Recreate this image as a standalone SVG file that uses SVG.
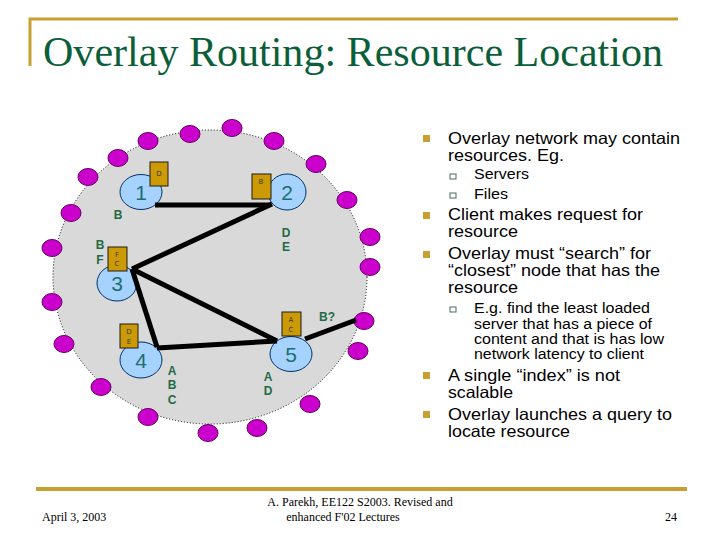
<svg xmlns="http://www.w3.org/2000/svg" width="720" height="540" viewBox="0 0 720 540">
<style>
.title{font-family:"Liberation Serif",serif;font-size:42px;fill:#0B5E3A}
.foot{font-family:"Liberation Serif",serif;font-size:12px;fill:#000}
.dot{fill:#CC00CC;stroke:#660066;stroke-width:1}
.node{fill:#A6D2FF;stroke:#003366;stroke-width:1}
.num{font-family:"Liberation Sans",sans-serif;font-size:21px;fill:#1E6E6E;text-anchor:middle}
.box{fill:#CC9A06;stroke:#1a1a1a;stroke-width:1}
.bt{font-family:"DejaVu Sans",sans-serif;font-size:7px;fill:#3a3a1a;text-anchor:middle}
.lab{font-family:"Liberation Sans",sans-serif;font-size:12px;font-weight:bold;fill:#1F6B45;text-anchor:middle}
.edge{stroke:#000;stroke-width:5;fill:none}
.b1{font-family:"Liberation Sans",sans-serif;font-size:16.5px;fill:#000}
.b2{font-family:"Liberation Sans",sans-serif;font-size:14px;fill:#000}
.sq{fill:#C8A032}
.sq2{fill:none;stroke:#4D6B5A;stroke-width:1}
</style>
<rect width="720" height="540" fill="#fff"/>
<g id="frame">
<path d="M30 66 V19 H678" fill="none" stroke="#C8A032" stroke-width="3"/>
<line x1="36" y1="489" x2="687" y2="489" stroke="#C8A032" stroke-width="4"/>
</g>
<text class="title" x="43" y="66" textLength="620" lengthAdjust="spacingAndGlyphs">Overlay Routing: Resource Location</text>
<g id="overlay">
<ellipse cx="210" cy="277" rx="157" ry="147" fill="#D9D9D9" stroke="#000" stroke-width="1" stroke-dasharray="1,2"/>
</g>
<g id="hosts">
<ellipse class="dot" cx="88" cy="177" rx="10" ry="8.5"/>
<ellipse class="dot" cx="118" cy="158" rx="10" ry="8.5"/>
<ellipse class="dot" cx="148" cy="141" rx="10" ry="8.5"/>
<ellipse class="dot" cx="190" cy="134" rx="10" ry="8.5"/>
<ellipse class="dot" cx="232" cy="128" rx="10" ry="8.5"/>
<ellipse class="dot" cx="274" cy="141" rx="10" ry="8.5"/>
<ellipse class="dot" cx="316" cy="164" rx="10" ry="8.5"/>
<ellipse class="dot" cx="347" cy="200" rx="10" ry="8.5"/>
<ellipse class="dot" cx="370" cy="237" rx="10" ry="8.5"/>
<ellipse class="dot" cx="370" cy="267" rx="10" ry="8.5"/>
<ellipse class="dot" cx="364" cy="321" rx="10" ry="8.5"/>
<ellipse class="dot" cx="358" cy="351" rx="10" ry="8.5"/>
<ellipse class="dot" cx="310" cy="404" rx="10" ry="8.5"/>
<ellipse class="dot" cx="257" cy="428" rx="10" ry="8.5"/>
<ellipse class="dot" cx="208" cy="433" rx="10" ry="8.5"/>
<ellipse class="dot" cx="148" cy="417" rx="10" ry="8.5"/>
<ellipse class="dot" cx="101" cy="387" rx="10" ry="8.5"/>
<ellipse class="dot" cx="64" cy="344" rx="10" ry="8.5"/>
<ellipse class="dot" cx="52" cy="302" rx="10" ry="8.5"/>
<ellipse class="dot" cx="52" cy="248" rx="10" ry="8.5"/>
<ellipse class="dot" cx="71" cy="213" rx="10" ry="8.5"/>
</g>
<g id="node1">
<ellipse class="node" cx="141" cy="192" rx="21" ry="17.5"/>
<text class="num" x="141" y="200">1</text>
<rect class="box" x="150" y="162" width="18" height="24"/>
<text class="bt" x="159" y="176">D</text>
<text class="lab" x="118" y="219">B</text>
</g>
<g id="node2">
<ellipse class="node" cx="287" cy="192" rx="19" ry="18"/>
<text class="num" x="287" y="200">2</text>
<rect class="box" x="252" y="174" width="19" height="25"/>
<text class="bt" x="261" y="184">B</text>
<text class="lab" x="286" y="237">D</text>
<text class="lab" x="286" y="251">E</text>
</g>
<g id="node3">
<ellipse class="node" cx="117" cy="283" rx="20" ry="18"/>
<text class="num" x="117" y="291">3</text>
<rect class="box" x="108" y="247" width="19" height="24"/>
<text class="bt" x="117" y="257">F</text>
<text class="bt" x="117" y="266">C</text>
<text class="lab" x="100" y="249">B</text>
<text class="lab" x="100" y="264">F</text>
</g>
<g id="node4">
<ellipse class="node" cx="141" cy="360" rx="21" ry="18"/>
<text class="num" x="141" y="368">4</text>
<rect class="box" x="120" y="324" width="18" height="24"/>
<text class="bt" x="129" y="334">D</text>
<text class="bt" x="129" y="344">E</text>
<text class="lab" x="172" y="375">A</text>
<text class="lab" x="172" y="389">B</text>
<text class="lab" x="172" y="404">C</text>
</g>
<g id="node5">
<ellipse class="node" cx="291" cy="354" rx="21" ry="17.5"/>
<text class="num" x="291" y="362">5</text>
<rect class="box" x="282" y="312" width="19" height="24"/>
<text class="bt" x="291" y="322">A</text>
<text class="bt" x="291" y="332">C</text>
<text class="lab" x="268" y="381">A</text>
<text class="lab" x="268" y="395">D</text>
<text class="lab" x="327" y="321">B?</text>
</g>
<g id="connectors">
<line class="edge" x1="155" y1="205" x2="270" y2="205"/>
<line class="edge" x1="272" y1="204" x2="132" y2="269"/>
<line class="edge" x1="132" y1="269" x2="157" y2="347"/>
<line class="edge" x1="132" y1="269" x2="277" y2="341"/>
<line class="edge" x1="157" y1="348" x2="277" y2="341"/>
<line class="edge" x1="305" y1="339" x2="356" y2="320"/>
</g>
<g id="bullets">
<rect class="sq" x="423" y="135" width="7" height="7"/>
<text class="b1" x="448" y="144" textLength="232" lengthAdjust="spacingAndGlyphs">Overlay network may contain</text>
<text class="b1" x="448" y="161" textLength="116" lengthAdjust="spacingAndGlyphs">resources. Eg.</text>
<rect class="sq2" x="450" y="174" width="6" height="5"/>
<text class="b2" x="474" y="179" textLength="55" lengthAdjust="spacingAndGlyphs">Servers</text>
<rect class="sq2" x="450" y="193" width="6" height="5"/>
<text class="b2" x="474" y="199" textLength="34" lengthAdjust="spacingAndGlyphs">Files</text>
<rect class="sq" x="423" y="212" width="7" height="7"/>
<text class="b1" x="448" y="220" textLength="195" lengthAdjust="spacingAndGlyphs">Client makes request for</text>
<text class="b1" x="448" y="237" textLength="70" lengthAdjust="spacingAndGlyphs">resource</text>
<rect class="sq" x="423" y="251" width="7" height="7"/>
<text class="b1" x="448" y="259" textLength="203" lengthAdjust="spacingAndGlyphs">Overlay must “search” for</text>
<text class="b1" x="448" y="276" textLength="212" lengthAdjust="spacingAndGlyphs">“closest” node that has the</text>
<text class="b1" x="448" y="293" textLength="70" lengthAdjust="spacingAndGlyphs">resource</text>
<rect class="sq2" x="450" y="307" width="6" height="5"/>
<text class="b2" x="474" y="313" textLength="176" lengthAdjust="spacingAndGlyphs">E.g. find the least loaded</text>
<text class="b2" x="474" y="329" textLength="178" lengthAdjust="spacingAndGlyphs">server that has a piece of</text>
<text class="b2" x="474" y="344" textLength="190" lengthAdjust="spacingAndGlyphs">content and that is has low</text>
<text class="b2" x="474" y="359" textLength="170" lengthAdjust="spacingAndGlyphs">network latency to client</text>
<rect class="sq" x="423" y="372" width="7" height="7"/>
<text class="b1" x="448" y="381" textLength="172" lengthAdjust="spacingAndGlyphs">A single “index” is not</text>
<text class="b1" x="448" y="398" textLength="65" lengthAdjust="spacingAndGlyphs">scalable</text>
<rect class="sq" x="423" y="411" width="7" height="7"/>
<text class="b1" x="448" y="420" textLength="224" lengthAdjust="spacingAndGlyphs">Overlay launches a query to</text>
<text class="b1" x="448" y="437" textLength="122" lengthAdjust="spacingAndGlyphs">locate resource</text>
</g>
<g id="footer">
<text class="foot" x="42" y="521">April 3, 2003</text>
<text class="foot" x="360" y="506" text-anchor="middle">A. Parekh, EE122 S2003. Revised and</text>
<text class="foot" x="343" y="521" text-anchor="middle">enhanced  F'02 Lectures</text>
<text class="foot" x="677" y="521" text-anchor="end">24</text>
</g>
</svg>
